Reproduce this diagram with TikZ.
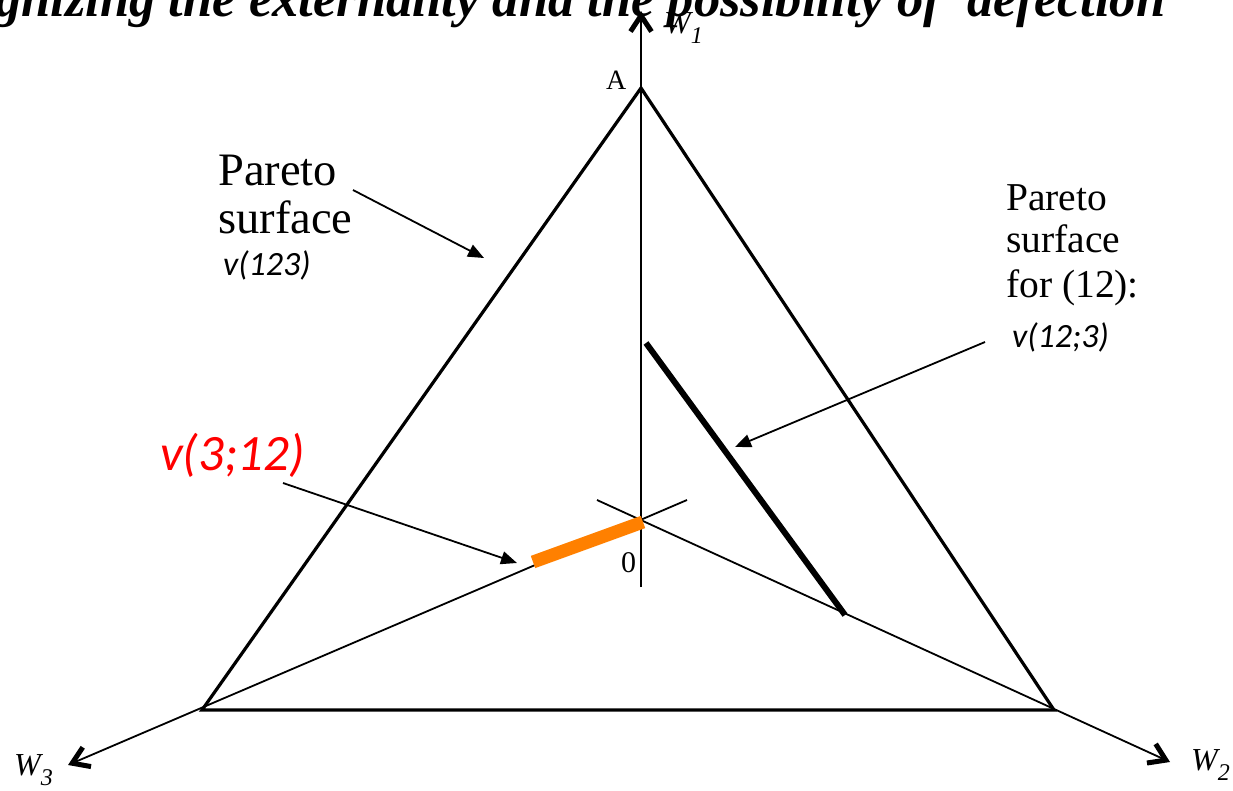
\documentclass[tikz,border=0pt]{standalone}
\usepackage{fontspec}
\newfontfamily\lserif{Liberation Serif}
\newfontfamily\calib{Carlito}
\usetikzlibrary{arrows.meta}
\begin{document}
\begin{tikzpicture}[x=1pt,y=-1pt,
  tri/.style={line width=3.2pt, line join=miter},
  axisarrow/.style={line width=1.8pt, -{Straight Barb[length=16pt,width=21pt,line width=5pt]}},
  pointer/.style={line width=1.8pt, -{Triangle[length=16pt,width=13pt]}},
  bigserif/.style={font=\fontsize{46.5}{50}\lserif, anchor=base west, inner sep=0pt},
  midserif/.style={font=\fontsize{39.5}{44}\lserif, anchor=base west, inner sep=0pt},
  smallserif/.style={font=\fontsize{30}{32}\lserif, anchor=base west, inner sep=0pt},
  vlab/.style={font=\fontsize{34}{36}\calib\itshape, anchor=base west, inner sep=0pt},
  redlab/.style={font=\fontsize{51}{54}\calib\itshape, text=red, anchor=base west, inner sep=0pt},
  wlab/.style={font=\fontsize{32}{34}\lserif\itshape, anchor=base west, inner sep=0pt},
]
\useasboundingbox (0,0) rectangle (1233,790);
\clip (0,0) rectangle (1233,790);

% title (cut off at the top)
\node[anchor=base west, inner sep=0pt] (title) at (-5,16) {\resizebox{1170pt}{!}{\fontsize{40}{40}\lserif\bfseries\itshape gnizing the externality and the possibility of\ \ defection}};

% points
\coordinate (O) at (641,520);
\coordinate (A) at (641,88);
\coordinate (L) at (202,710);
\coordinate (R) at (1054,710);

% axes
\coordinate (w1s) at (641,587);
\coordinate (w1e) at (641,11);
\coordinate (w2s) at (597,500);
\coordinate (w2e) at (1170,762);
\coordinate (w3s) at (687,500);
\coordinate (w3e) at (68,765);
\draw[axisarrow] (w1s) -- (w1e);
\draw[axisarrow] (w2s) -- (w2e);
\draw[axisarrow] (w3s) -- (w3e);

% triangle
\draw[tri] (A) -- (R) -- (L) -- cycle;

% segments
\coordinate (o1) at (533,562);
\coordinate (o2) at (643,522);
\draw[orange, line width=13pt] (o1) -- (o2);
\coordinate (b1) at (646,343);
\coordinate (b2) at (845,615);
\draw[line width=6pt] (b1) -- (b2);

% labels
\node[smallserif, font=\fontsize{28}{30}\lserif] (lA) at (606,89) {A};
\node[smallserif] (l0) at (621,572) {0};
\node[wlab] (lw1) at (664,33) {W\raisebox{-0.33em}{\fontsize{24}{24}\selectfont 1}};
\node[wlab] (lw3) at (14,775) {W\raisebox{-0.33em}{\fontsize{24}{24}\selectfont 3}};
\node[wlab] (lw2) at (1191,770) {W\raisebox{-0.33em}{\fontsize{24}{24}\selectfont 2}};

\node[bigserif] (p1) at (218,185) {Pareto};
\node[bigserif] (s1) at (218,233) {surface};
\node[vlab] (v123) at (223,275) {v(123)};

\node[midserif] (p2) at (1006,210) {Pareto};
\node[midserif] (s2) at (1006,252) {surface};
\node[midserif] (f2) at (1006,297) {for (12):};
\node[vlab] (v123b) at (1012,347) {v(12;3)};

\node[redlab] (v312) at (160,470) {v(3;12)};

% pointers
\coordinate (a1s) at (353,190);
\coordinate (a1e) at (484,258);
\draw[pointer] (a1s) -- (a1e);
\coordinate (a2s) at (985,342);
\coordinate (a2e) at (735,447);
\draw[pointer] (a2s) -- (a2e);
\coordinate (a3s) at (283,483);
\coordinate (a3e) at (517,563);
\draw[pointer] (a3s) -- (a3e);
\end{tikzpicture}
\end{document}
